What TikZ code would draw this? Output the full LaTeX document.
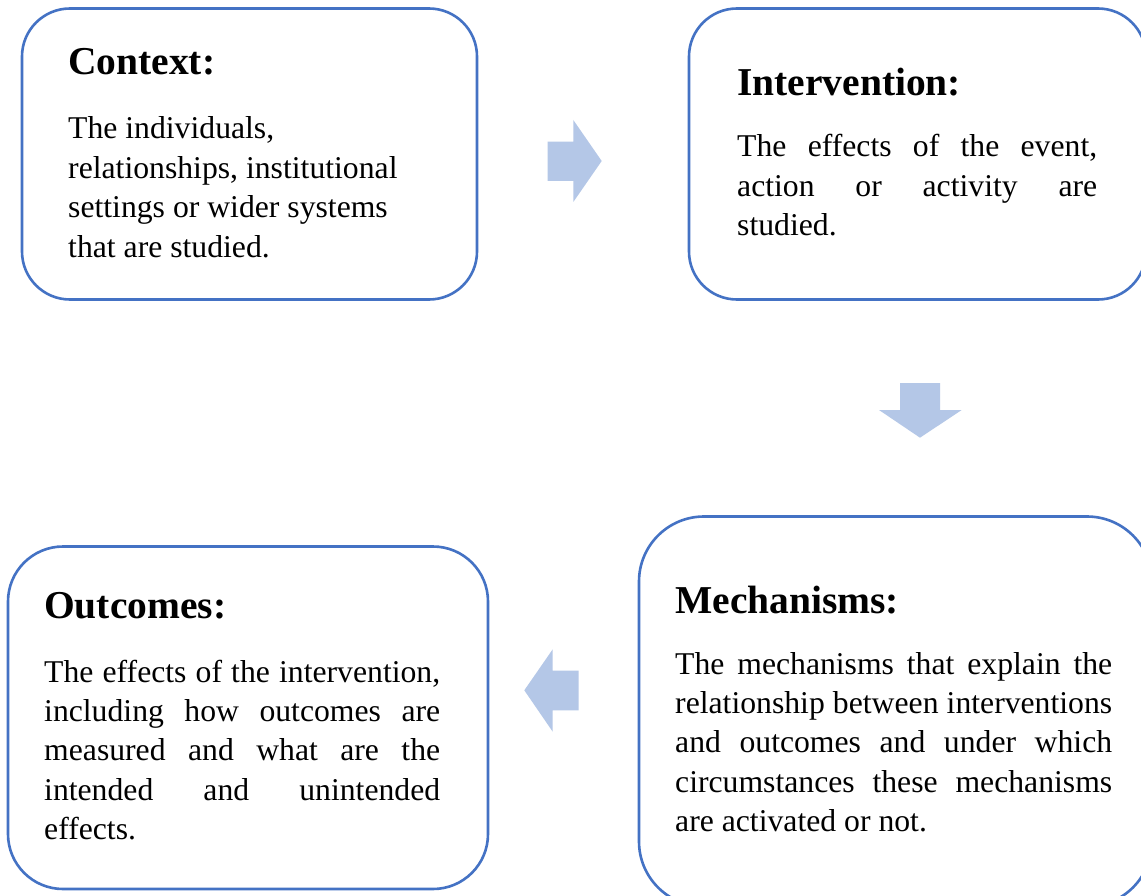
\documentclass[tikz,border=0pt]{standalone}
\usepackage{fontspec}
\setmainfont[Ligatures=NoCommon]{Liberation Serif}
\definecolor{boxblue}{HTML}{4472C4}
\definecolor{arrowblue}{HTML}{B4C7E7}
\tikzset{
  cbox/.style={draw=boxblue, line width=2.6pt, fill=white, inner sep=0pt, outer sep=0pt},
  ttl/.style={anchor=base west, inner sep=0pt, font=\fontsize{39.5}{47}\selectfont\bfseries},
  bdy/.style={anchor=base west, inner sep=0pt, font=\fontsize{31.7}{39.4}\selectfont},
  blockarrow/.style={fill=arrowblue, draw=none}
}
\newcommand{\jline}[1]{\makebox[\linewidth][s]{#1}\\}
\begin{document}
\begin{tikzpicture}[x=1pt,y=-1pt]
\useasboundingbox (0,0) rectangle (1141,896);
\clip (0,0) rectangle (1141,896);
\fill[white] (0,0) rectangle (1141,896);

% boxes
\node[cbox, rounded corners=48pt, minimum width=455pt, minimum height=291pt] (ctx) at (249.5,154) {};
\node[cbox, rounded corners=48pt, minimum width=457pt, minimum height=291pt] (int) at (917.5,154) {};
\node[cbox, rounded corners=65pt, minimum width=513pt, minimum height=390pt] (mec) at (895.5,711.5) {};
\node[cbox, rounded corners=55pt, minimum width=480pt, minimum height=342.5pt] (out) at (248,717.75) {};

% block arrows
\fill[blockarrow] (547.7,141.7) -- (573.3,141.7) -- (573.3,120) -- (601.7,161) -- (573.3,202) -- (573.3,181) -- (547.7,181) -- cycle;
\fill[blockarrow] (900,383) -- (940,383) -- (940,410) -- (961.7,410) -- (920,437.7) -- (879,410) -- (900,410) -- cycle;
\fill[blockarrow] (578.7,670.7) -- (552.7,670.7) -- (552.7,649.3) -- (524.3,690.3) -- (552.7,731.7) -- (552.7,710.3) -- (578.7,710.3) -- cycle;

% Context
\node[ttl] (ctxtitle) at (68,75) {Context:};
\node[bdy] (ctxbody) at (68,139) {\parbox[t]{390pt}{The individuals,\\
relationships, institutional\\
settings or wider systems\\
that are studied.}};

% Intervention
\node[ttl] (inttitle) at (737,96) {Intervention:};
\node[bdy] (intbody) at (737,157) {\parbox[t]{360pt}{\jline{The effects of the event,}
\jline{action or activity are}
studied.}};

% Mechanisms
\node[ttl] (mectitle) at (675,613) {Mechanisms:};
\node[bdy] (mecbody) at (675,674) {\parbox[t]{437pt}{\jline{The mechanisms that explain the}
\jline{relationship between interventions}
\jline{and outcomes and under which}
\jline{circumstances these mechanisms}
are activated or not.}};

% Outcomes
\node[ttl] (outtitle) at (44,618) {Outcomes:};
\node[bdy] (outbody) at (44,682) {\parbox[t]{396pt}{\jline{The effects of the intervention,}
\jline{including how outcomes are}
\jline{measured and what are the}
\jline{intended and unintended}
effects.}};
\end{tikzpicture}
\end{document}
